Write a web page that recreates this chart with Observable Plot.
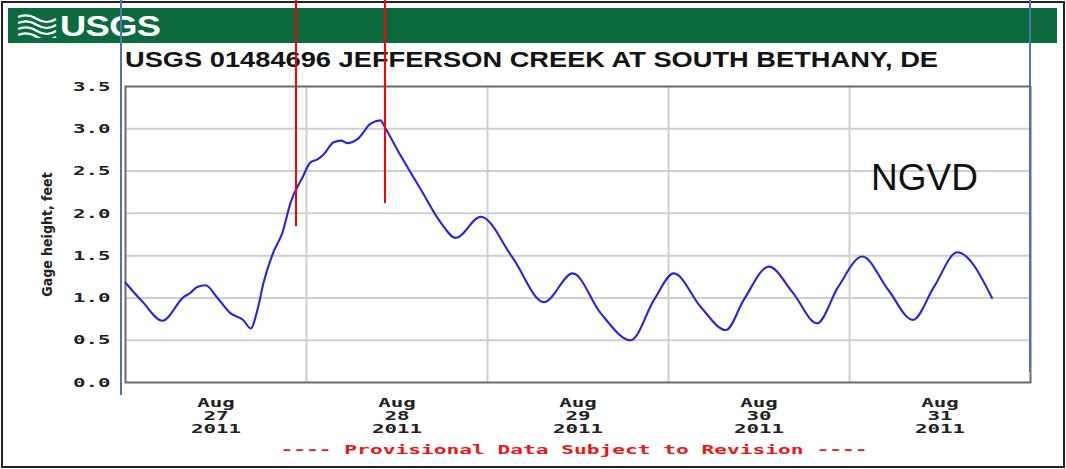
<!DOCTYPE html>
<html><head><meta charset="utf-8">
<script src="https://cdn.jsdelivr.net/npm/d3@7"></script>
<script src="https://cdn.jsdelivr.net/npm/@observablehq/plot@0.6"></script>
<style>
html,body{margin:0;padding:0;background:#fff;}
#page{position:relative;width:1066px;height:469px;overflow:hidden;background:#fff;font-family:"Liberation Sans",Arial,sans-serif;}
#border{position:absolute;left:1px;top:1px;width:1064px;height:467px;border:2px solid #222;box-sizing:border-box;}
#banner{position:absolute;left:8px;top:8px;width:1049px;height:35px;background:#0b6b3e;}
#logoText{position:absolute;left:52px;top:0px;font:bold 30px/35px "Liberation Sans",Arial,sans-serif;color:#fff;transform:scaleX(1.21);transform-origin:left top;letter-spacing:-0.5px;}
#logoWave{position:absolute;left:9px;top:6px;}
#title{position:absolute;left:125px;top:49px;font:bold 22px/1 "Liberation Sans",Arial,sans-serif;color:#141414;white-space:nowrap;transform-origin:left top;}
#chart{position:absolute;left:0;top:70px;}
#caption{position:absolute;left:274px;top:443px;width:600px;text-align:center;font:bold 13px/1 "DejaVu Sans Mono",monospace;color:#f01414;white-space:nowrap;transform:scaleX(1.63);transform-origin:center top;}
.ov{position:absolute;z-index:10;}
#ngvd{position:absolute;left:871px;top:159px;font:37px/1 "Liberation Sans",Arial,sans-serif;color:#111;z-index:10;}
</style></head>
<body>
<div id="page">
  <div id="border"></div>
  <div id="banner">
    <svg id="logoWave" width="40" height="24" viewBox="0 0 40 24">
      <g fill="none" stroke="#fff" stroke-width="2.2">
        <path d="M1 3 Q10 -1 20 5 T39 5"/>
        <path d="M1 9 Q10 5 20 11 T39 11"/>
        <path d="M1 15 Q10 11 20 17 T39 17"/>
        <path d="M1 21 Q10 17 20 23 T39 23"/>
      </g>
    </svg>
    <div id="logoText">USGS</div>
  </div>
  <div id="title">USGS 01484696 JEFFERSON CREEK AT SOUTH BETHANY, DE</div>
  <div id="chart"></div>
  <div id="caption">---- Provisional Data Subject to Revision ----</div>
  <div class="ov" style="left:120px;top:0;width:2px;height:395px;background:#4f74b4"></div>
  <div class="ov" style="left:1029px;top:0;width:2px;height:372px;background:#4f74b4"></div>
  <div class="ov" style="left:295px;top:0;width:2px;height:226px;background:#ff0000"></div>
  <div class="ov" style="left:384px;top:0;width:2px;height:203px;background:#ff0000"></div>
  <div id="ngvd">NGVD</div>
</div>
<script>
// Gage height readings
const times = [
  "2011-08-27T00:00","2011-08-27T02:12","2011-08-27T04:54","2011-08-27T07:42","2011-08-27T08:36",
  "2011-08-27T09:30","2011-08-27T10:36","2011-08-27T12:12","2011-08-27T13:54","2011-08-27T15:36",
  "2011-08-27T16:36","2011-08-27T17:30","2011-08-27T18:18","2011-08-27T19:36","2011-08-27T20:48",
  "2011-08-27T21:54","2011-08-27T23:30","2011-08-28T00:30","2011-08-28T01:30","2011-08-28T02:18",
  "2011-08-28T03:36","2011-08-28T04:36","2011-08-28T05:24","2011-08-28T06:48","2011-08-28T08:30",
  "2011-08-28T09:48","2011-08-28T10:30","2011-08-28T12:30","2011-08-28T15:06","2011-08-28T17:48",
  "2011-08-28T19:48","2011-08-28T23:06","2011-08-29T03:18","2011-08-29T07:30","2011-08-29T11:18",
  "2011-08-29T15:00","2011-08-29T19:00","2011-08-29T22:06","2011-08-30T00:42","2011-08-30T04:18",
  "2011-08-30T07:36","2011-08-30T10:00","2011-08-30T13:18","2011-08-30T16:30","2011-08-30T19:42",
  "2011-08-30T22:30","2011-08-31T01:42","2011-08-31T05:06","2011-08-31T08:24","2011-08-31T11:12",
  "2011-08-31T14:18","2011-08-31T18:54"
];
const heights = [
  1.18,0.96,0.73,1.01,1.06,
  1.13,1.15,1.00,0.82,0.74,
  0.64,0.86,1.18,1.54,1.77,
  2.13,2.43,2.60,2.64,2.70,
  2.84,2.86,2.83,2.88,3.06,
  3.10,3.00,2.68,2.29,1.89,
  1.71,1.96,1.48,0.95,1.29,
  0.82,0.50,0.98,1.29,0.89,
  0.62,0.98,1.37,1.06,0.70,
  1.13,1.49,1.10,0.74,1.13,
  1.54,1.00
];
const yTicks = [0, 0.5, 1.0, 1.5, 2.0, 2.5, 3.0, 3.5];
const xTickDays = ["2011-08-27T12:00","2011-08-28T12:00","2011-08-29T12:00","2011-08-30T12:00","2011-08-31T12:00"];
const dayBounds = ["2011-08-28T00:00","2011-08-29T00:00","2011-08-30T00:00","2011-08-31T00:00"];
const xDomain = ["2011-08-27T00:00","2011-09-01T00:00"];
const yLabel = "Gage height, feet";

const parse = s => new Date(s + ":00Z");
const data = times.map((t, i) => ({time: parse(t), height: heights[i]}));
const fmtMonth = d3.utcFormat("%b"), fmtDay = d3.utcFormat("%d"), fmtYear = d3.utcFormat("%Y");

const chart = Plot.plot({
  width: 1066,
  height: 399,
  marginTop: 16,
  marginBottom: 87,
  marginLeft: 125,
  marginRight: 36,
  style: {fontFamily: "'DejaVu Sans Mono', monospace", fontWeight: "bold", fontSize: "13px", color: "#222", background: "transparent"},
  x: {type: "utc", domain: xDomain.map(parse)},
  y: {domain: [0, 3.5]},
  marks: [
    Plot.gridY(yTicks.filter(v => v > 0 && v < 3.5), {stroke: "#cfcfcf", strokeOpacity: 1, strokeWidth: 2}),
    Plot.gridX(dayBounds.map(parse), {stroke: "#cfcfcf", strokeOpacity: 1, strokeWidth: 2}),
    Plot.frame({stroke: "#6a6a6a", strokeWidth: 2}),
    Plot.line(data, {x: "time", y: "height", stroke: "#2626e2", strokeWidth: 2.1, curve: "monotone-x"}),
    Plot.axisY(yTicks, {tickSize: 0, tickPadding: 15, tickFormat: d3.format(".1f"), label: null, fontSize: 13}),
    Plot.axisX(xTickDays.map(parse), {tickSize: 0, tickPadding: 15, label: null, fontSize: 13, lineHeight: 1,
      tickFormat: d => `${fmtMonth(d)}\n${fmtDay(d)}\n${fmtYear(d)}`}),
    Plot.text([yLabel], {frameAnchor: "left", textAnchor: "middle", rotate: -90, dx: -78, text: d => d,
      fontFamily: "'DejaVu Sans Condensed', 'DejaVu Sans', sans-serif", fontWeight: "bold", fontSize: 14, fill: "#222"})
  ]
});
document.getElementById("chart").appendChild(chart);

// widen the pixel-style tick labels like the stretched original
chart.querySelectorAll('g[aria-label="x-axis tick label"] text, g[aria-label="y-axis tick label"] text').forEach(t => {
  const tr = t.getAttribute("transform");
  if (tr) t.setAttribute("transform", tr + " scale(1.6,1)");
  else {
    const x = t.getAttribute("x") || 0, y = t.getAttribute("y") || 0;
    t.removeAttribute("x"); t.removeAttribute("y");
    t.setAttribute("transform", `translate(${x},${y}) scale(1.6,1)`);
  }
});

// stretch title to the original's width
const title = document.getElementById("title");
const w = title.getBoundingClientRect().width;
title.style.transform = `scaleX(${813 / w})`;
</script>
</body></html>
